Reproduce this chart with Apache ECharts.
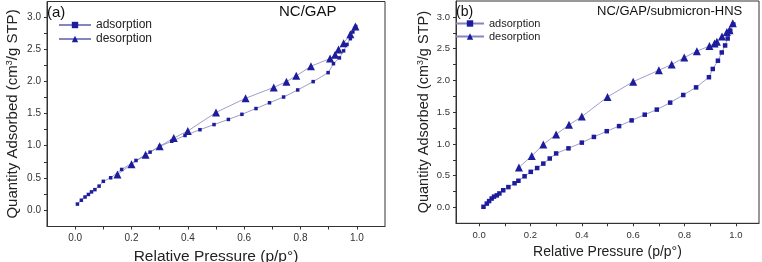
<!DOCTYPE html>
<html>
<head>
<meta charset="utf-8">
<script src="https://cdn.jsdelivr.net/npm/echarts@6/dist/echarts.min.js"></script>
<style>
  html, body { margin: 0; padding: 0; background: #fff; }
  #root { width: 762px; height: 262px; }
</style>
</head>
<body>
<div id="root"></div>
<script>
// panel (a) NC/GAP : [p/p0, quantity]
var adsA = [
  [0.008, 0.09], [0.022, 0.15], [0.035, 0.20], [0.047, 0.24], [0.058, 0.28],
  [0.07, 0.315], [0.085, 0.37], [0.10, 0.445], [0.126, 0.50], [0.165, 0.63],
  [0.216, 0.77], [0.266, 0.90], [0.30, 0.99], [0.343, 1.07], [0.39, 1.16],
  [0.443, 1.25], [0.493, 1.33], [0.544, 1.41], [0.592, 1.49], [0.642, 1.58],
  [0.69, 1.67], [0.74, 1.76], [0.79, 1.87], [0.845, 2.00], [0.898, 2.14],
  [0.917, 2.28], [0.938, 2.37], [0.953, 2.48], [0.965, 2.58], [0.977, 2.67],
  [0.986, 2.775], [0.992, 2.83], [0.996, 2.86]
];
var desA = [
  [0.995, 2.86], [0.977, 2.74], [0.953, 2.60], [0.935, 2.50], [0.923, 2.42],
  [0.905, 2.36], [0.837, 2.24], [0.785, 2.09], [0.75, 2.00], [0.705, 1.91],
  [0.605, 1.74], [0.50, 1.52], [0.40, 1.23], [0.35, 1.12], [0.30, 0.99],
  [0.25, 0.86], [0.20, 0.71], [0.15, 0.55]
];

// panel (b) NC/GAP/submicron-HNS
var adsB = [
  [0.017, 0.01], [0.03, 0.06], [0.039, 0.10], [0.049, 0.14], [0.058, 0.17],
  [0.069, 0.19], [0.079, 0.22], [0.094, 0.27], [0.114, 0.32], [0.138, 0.38],
  [0.153, 0.42], [0.177, 0.49], [0.201, 0.56], [0.226, 0.62], [0.25, 0.69],
  [0.275, 0.77], [0.30, 0.85], [0.348, 0.93], [0.40, 1.02], [0.447, 1.11],
  [0.497, 1.20], [0.545, 1.28], [0.594, 1.37], [0.645, 1.46], [0.692, 1.54],
  [0.744, 1.65], [0.795, 1.77], [0.845, 1.89], [0.895, 2.05], [0.91, 2.18],
  [0.93, 2.31], [0.945, 2.44], [0.958, 2.55], [0.968, 2.66], [0.978, 2.78],
  [0.99, 2.88]
];
var desB = [
  [0.988, 2.90], [0.975, 2.79], [0.965, 2.76], [0.946, 2.69], [0.926, 2.61],
  [0.917, 2.58], [0.897, 2.54], [0.848, 2.46], [0.799, 2.36], [0.75, 2.25],
  [0.70, 2.16], [0.60, 1.98], [0.50, 1.74], [0.40, 1.43], [0.35, 1.30],
  [0.30, 1.15], [0.25, 0.99], [0.205, 0.81], [0.155, 0.63]
];

var xLabels = [0.0, 0.2, 0.4, 0.6, 0.8, 1.0];
var xTicks = [0.0, 0.1, 0.2, 0.3, 0.4, 0.5, 0.6, 0.7, 0.8, 0.9, 1.0];
var yLabels = [0.0, 0.5, 1.0, 1.5, 2.0, 2.5, 3.0];
var yTicks = [0.0, 0.25, 0.5, 0.75, 1.0, 1.25, 1.5, 1.75, 2.0, 2.25, 2.5, 2.75, 3.0];

var FONT = 'Liberation Sans, Arial, sans-serif';
var AXIS_COLOR = '#333';
var LINE_COLOR = '#8585c0';
var MARK_COLOR = '#1c1c9c';

function xAxis (grid, min, max, fontSize, nameSize, gap) {
  return {
    type: 'value', gridIndex: grid, min: min, max: max,
    name: 'Relative Pressure (p/p°)', nameLocation: 'middle', nameGap: gap,
    nameTextStyle: { fontSize: nameSize, color: '#222', fontFamily: FONT },
    axisLine: { onZero: false, lineStyle: { color: AXIS_COLOR, width: 1 } },
    axisTick: { show: true, length: 3, inside: false, customValues: xTicks, lineStyle: { color: AXIS_COLOR } },
    axisLabel: { customValues: xLabels, margin: 7, fontSize: fontSize, color: '#333', fontFamily: FONT,
      formatter: function (v) { return v.toFixed(1); } },
    splitLine: { show: false }
  };
}

function yAxis (grid, min, max, fontSize, nameSize, gap) {
  return {
    type: 'value', gridIndex: grid, min: min, max: max,
    name: 'Quantity Adsorbed (cm{sup|3}/g STP)', nameLocation: 'middle', nameGap: gap, nameRotate: 90,
    nameTextStyle: { fontSize: nameSize, color: '#222', fontFamily: FONT,
      rich: { sup: { fontSize: nameSize * 0.6, verticalAlign: 'top', color: '#222', fontFamily: FONT, padding: [0, 0, nameSize * 0.5, 0] } } },
    axisLine: { onZero: false, lineStyle: { color: AXIS_COLOR, width: 1 } },
    axisTick: { show: true, length: 3, inside: false, customValues: yTicks, lineStyle: { color: AXIS_COLOR } },
    axisLabel: { customValues: yLabels, margin: 6, fontSize: fontSize, color: '#333', fontFamily: FONT,
      formatter: function (v) { return v.toFixed(1); } },
    splitLine: { show: false }
  };
}

function series (name, data, grid, symbol, size) {
  return {
    name: name, type: 'line', xAxisIndex: grid, yAxisIndex: grid, data: data,
    symbol: symbol, symbolSize: size, showSymbol: true, animation: false,
    lineStyle: { color: LINE_COLOR, width: 0.8 },
    itemStyle: { color: MARK_COLOR }
  };
}

var chart = echarts.init(document.getElementById('root'), null, { renderer: 'canvas' });

var option = {
  animation: false,
  textStyle: { fontFamily: FONT },
  grid: [
    { left: 47, right: 377, top: 1.5, bottom: 35.5, show: true, borderColor: AXIS_COLOR, borderWidth: 1,
      containLabel: false, outerBoundsMode: 'none' },
    { left: 456, right: 3, top: 1, bottom: 38.7, show: true, borderColor: AXIS_COLOR, borderWidth: 1,
      containLabel: false, outerBoundsMode: 'none' }
  ],
  title: [
    { text: '(a)', left: 47, top: 5, padding: 0, textStyle: { fontSize: 15, fontWeight: 'normal', color: '#111', fontFamily: FONT } },
    { text: 'NC/GAP', left: 279, top: 4, padding: 0, textStyle: { fontSize: 15, fontWeight: 'normal', color: '#111', fontFamily: FONT } },
    { text: '(b)', left: 456, top: 5, padding: 0, textStyle: { fontSize: 14, fontWeight: 'normal', color: '#111', fontFamily: FONT } },
    { text: 'NC/GAP/submicron-HNS', left: 597, top: 5, padding: 0, textStyle: { fontSize: 13, fontWeight: 'normal', color: '#111', fontFamily: FONT } }
  ],
  legend: [
    { orient: 'vertical', left: 58, top: 19, padding: 0, itemGap: 2, itemWidth: 32, itemHeight: 8,
      data: ['adsorption', 'desorption'], textStyle: { fontSize: 12, color: '#222', fontFamily: FONT } },
    { orient: 'vertical', left: 455, top: 18, padding: 0, itemGap: 2, itemWidth: 28, itemHeight: 8,
      data: ['adsorption', 'desorption'], textStyle: { fontSize: 11, color: '#222', fontFamily: FONT } }
  ],
  xAxis: [
    xAxis(0, -0.1, 1.1, 10, 15.5, 19),
    xAxis(1, -0.09, 1.09, 9.5, 14, 22)
  ],
  yAxis: [
    yAxis(0, -0.26, 3.25, 10, 15, 25.5),
    yAxis(1, -0.25, 3.25, 9.5, 14.5, 24)
  ],
  series: [
    series('adsorption', adsA, 0, 'rect', 3.5),
    series('desorption', desA, 0, 'triangle', 8),
    series('adsorption', adsB, 1, 'rect', 4.5),
    series('desorption', desB, 1, 'triangle', 8)
  ]
};

chart.setOption(option);
</script>
</body>
</html>
